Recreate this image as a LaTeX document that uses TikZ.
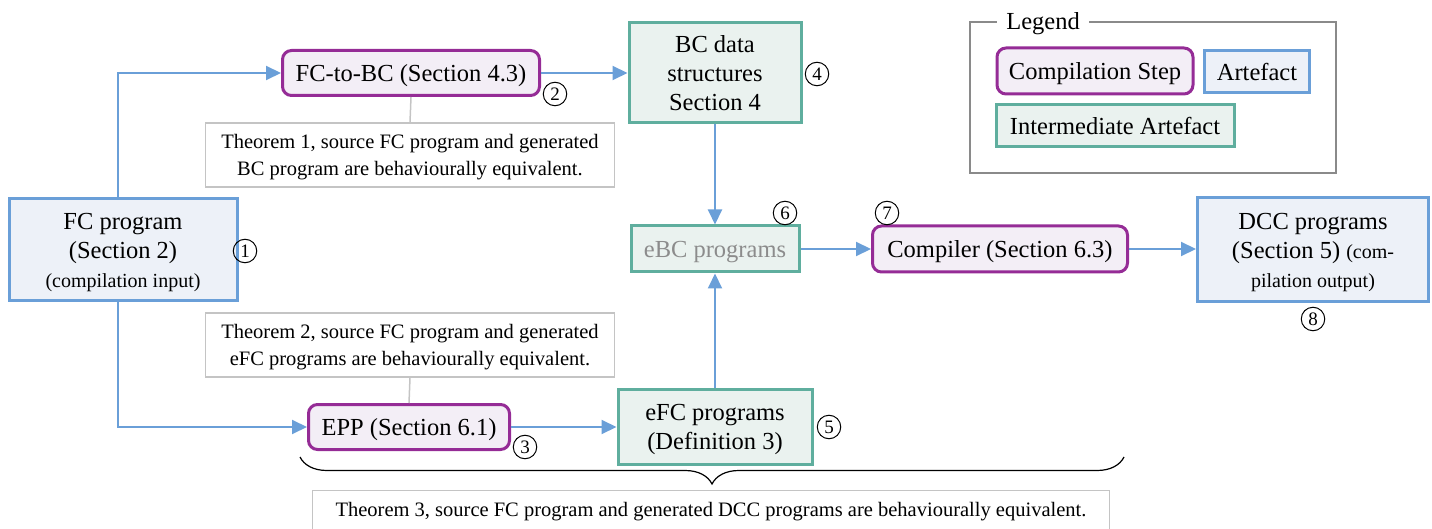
\documentclass[tikz,border=0pt]{standalone}
\usepackage{fontspec}
\setmainfont{Liberation Serif}
\usetikzlibrary{arrows.meta,decorations.pathreplacing}
\definecolor{abl}{HTML}{6A9FD8}
\definecolor{ablf}{HTML}{EDF1F8}
\definecolor{cpu}{HTML}{952C96}
\definecolor{cpuf}{HTML}{F3EEF6}
\definecolor{ite}{HTML}{5FAE9E}
\definecolor{itef}{HTML}{EAF2EF}
\definecolor{thg}{HTML}{C4C4C4}
\definecolor{lgg}{HTML}{8A8A8A}
\definecolor{ebcgray}{HTML}{8C8C8C}
\newcommand\mainsz{\fontsize{24.5}{29}\selectfont}
\newcommand\smallsz{\fontsize{20}{24}\selectfont}
\newcommand\thmsz{\fontsize{20.5}{27}\selectfont}
\begin{document}
\begin{tikzpicture}[x=1pt,y=-1pt,
 artefact/.style={draw=abl, fill=ablf, line width=3pt, align=center, font=\mainsz, inner sep=0pt, text depth=0pt},
 compstep/.style={draw=cpu, fill=cpuf, line width=3pt, rounded corners=9pt, font=\mainsz, inner sep=0pt, text depth=0pt},
 interm/.style={draw=ite, fill=itef, line width=3pt, align=center, font=\mainsz, inner sep=0pt, text depth=0pt},
 thm/.style={draw=thg, line width=1.3pt, align=center, font=\thmsz, inner sep=0pt, text depth=0pt},
 num/.style={circle, draw, line width=1pt, inner sep=0pt, minimum size=23.5pt, font=\fontsize{19}{19}\selectfont},
 flow/.style={draw=abl, line width=2pt, -{Triangle[length=15pt,width=14pt]}},
 link/.style={draw=thg, line width=1.5pt},
]
\useasboundingbox (0,0) rectangle (1432,529);
\clip (0,0) rectangle (1432,529);

% main nodes
\node[artefact, minimum width=228, minimum height=102] (fc) at (123,250) {FC program\\(Section 2)\\{\smallsz (compilation input)}};
\node[compstep, minimum width=257, minimum height=45] (f2b) at (411,73) {FC-to-BC (Section 4.3)};
\node[interm, minimum width=172, minimum height=100] (bc) at (715,73) {BC data\\structures\\Section 4};
\node[interm, minimum width=168, minimum height=46, text=ebcgray] (ebc) at (715,249) {eBC programs};
\node[compstep, minimum width=255, minimum height=46] (comp) at (1000,249) {Compiler (Section 6.3)};
\node[artefact, minimum width=231, minimum height=104] (dcc) at (1313,250) {DCC programs\\(Section 5) {\smallsz (com-}\\{\smallsz pilation output)}};
\node[compstep, minimum width=201, minimum height=45] (epp) at (409,427) {EPP (Section 6.1)};
\node[interm, minimum width=194, minimum height=75] (efc) at (715,427) {eFC programs\\(Definition 3)};

% theorem boxes
\node[thm, minimum width=409, minimum height=64] (t1) at (410,155) {Theorem 1, source FC program and generated\\BC program are behaviourally equivalent.};
\node[thm, minimum width=409, minimum height=64] (t2) at (410,345) {Theorem 2, source FC program and generated\\eFC programs are behaviourally equivalent.};
\node[thm, anchor=north, minimum width=797, inner ysep=6pt, text height=20pt, text depth=30pt] (t3) at (711,490) {Theorem 3, source FC program and generated DCC programs are behaviourally equivalent.};

% numbers
\node[num] (n1) at (245,251) {1};
\node[num] (n2) at (555,94) {2};
\node[num] (n3) at (525,447) {3};
\node[num] (n4) at (817,74) {4};
\node[num] (n5) at (829,427) {5};
\node[num] (n6) at (785,213) {6};
\node[num] (n7) at (887,213) {7};
\node[num] (n8) at (1313,319) {8};

% connectors
\draw[flow] ([xshift=-5pt]fc.north) |- (f2b.west);
\draw[flow] ([xshift=-5pt]fc.south) |- (epp.west);
\draw[flow] (f2b.east) -- (bc.west);
\draw[flow] (bc.south) -- (ebc.north);
\draw[flow] (ebc.east) -- (comp.west);
\draw[flow] (comp.east) -- (comp.east -| dcc.west);
\draw[flow] (epp.east) -- (efc.west);
\draw[flow] (efc.north) -- (ebc.south);
\draw[link] (f2b.south) -- (t1.north);
\draw[link] (epp.north) -- (t2.south);

% brace
\coordinate (bl) at (300,457);
\coordinate (br) at (1124,457);
\draw[line width=1.2pt, decorate, decoration={brace, mirror, amplitude=27pt}] (bl) -- (br);

% legend
\node[draw=lgg, line width=2pt, minimum width=366, minimum height=151, inner sep=0pt] (leg) at (1153,97.5) {};
\node[fill=white, font=\mainsz, inner xsep=9pt, inner ysep=2pt, text depth=0pt] (legt) at (1043,21) {Legend};
\node[compstep, minimum width=196, minimum height=46] (lcs) at (1095,71) {Compilation Step};
\node[artefact, minimum width=105, minimum height=42] (lar) at (1257,72) {Artefact};
\node[interm, minimum width=238, minimum height=42] (lia) at (1115,126) {Intermediate Artefact};
\end{tikzpicture}
\end{document}
